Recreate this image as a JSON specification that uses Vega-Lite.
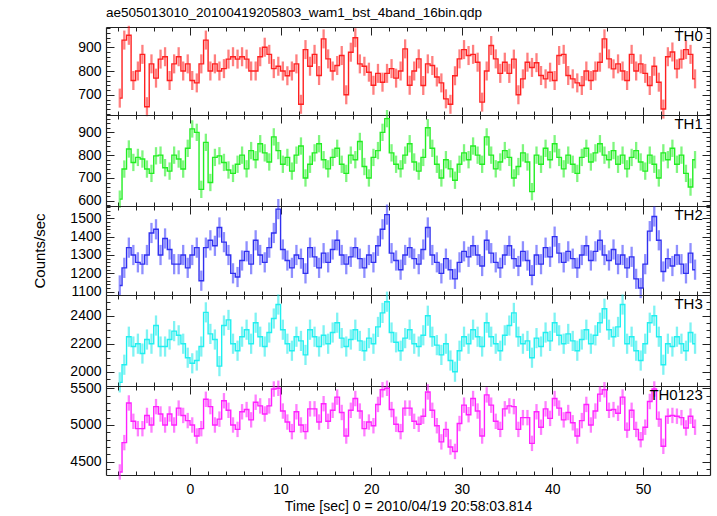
{
"$schema": "https://vega.github.io/schema/vega-lite/v6.json",
"padding": {"left": 32, "top": 6, "right": 5, "bottom": 5},
"config": {
  "view": {"stroke": null},
  "axis": {"format": "d", "domainColor": "#222", "tickColor": "#222", "grid": false, "labelFont": "Liberation Sans", "labelFontSize": 14, "labelColor": "#000", "titleFont": "Liberation Sans", "titleFontSize": 14, "titleFontWeight": "normal", "titleColor": "#000", "tickWidth": 1, "domainWidth": 1.2}
},
"datasets": {
"th0": [
{"t":-7.75,"v":686,"e":40},{"t":-7.25,"v":930,"e":40},{"t":-6.75,"v":950,"e":40},{"t":-6.25,"v":760,"e":40},{"t":-5.75,"v":800,"e":40},{"t":-5.25,"v":870,"e":40},{"t":-4.75,"v":650,"e":40},{"t":-4.25,"v":830,"e":40},{"t":-3.75,"v":770,"e":40},{"t":-3.25,"v":850,"e":40},{"t":-2.75,"v":860,"e":40},{"t":-2.25,"v":760,"e":40},{"t":-1.75,"v":830,"e":40},{"t":-1.25,"v":860,"e":40},{"t":-0.75,"v":800,"e":40},{"t":-0.25,"v":830,"e":40},
{"t":0.25,"v":760,"e":40},{"t":0.75,"v":750,"e":40},{"t":1.25,"v":830,"e":40},{"t":1.75,"v":930,"e":40},{"t":2.25,"v":800,"e":40},{"t":2.75,"v":830,"e":40},{"t":3.25,"v":800,"e":40},{"t":3.75,"v":810,"e":40},{"t":4.25,"v":850,"e":40},{"t":4.75,"v":860,"e":40},{"t":5.25,"v":850,"e":40},{"t":5.75,"v":860,"e":40},{"t":6.25,"v":850,"e":40},{"t":6.75,"v":800,"e":40},{"t":7.25,"v":800,"e":40},{"t":7.75,"v":860,"e":40},
{"t":8.25,"v":900,"e":40},{"t":8.75,"v":870,"e":40},{"t":9.25,"v":810,"e":40},{"t":9.75,"v":820,"e":40},{"t":10.25,"v":800,"e":40},{"t":10.75,"v":780,"e":40},{"t":11.25,"v":800,"e":40},{"t":11.75,"v":830,"e":40},{"t":12.25,"v":660,"e":40},{"t":12.75,"v":890,"e":40},{"t":13.25,"v":820,"e":40},{"t":13.75,"v":870,"e":40},{"t":14.25,"v":781,"e":40},{"t":14.75,"v":935,"e":40},{"t":15.25,"v":851,"e":40},{"t":15.75,"v":800,"e":40},
{"t":16.25,"v":823,"e":40},{"t":16.75,"v":865,"e":40},{"t":17.25,"v":700,"e":40},{"t":17.75,"v":879,"e":40},{"t":18.25,"v":940,"e":40},{"t":18.75,"v":830,"e":40},{"t":19.25,"v":820,"e":40},{"t":19.75,"v":795,"e":40},{"t":20.25,"v":740,"e":40},{"t":20.75,"v":790,"e":40},{"t":21.25,"v":753,"e":40},{"t":21.75,"v":790,"e":40},{"t":22.25,"v":810,"e":40},{"t":22.75,"v":770,"e":40},{"t":23.25,"v":800,"e":40},{"t":23.75,"v":893,"e":40},
{"t":24.25,"v":740,"e":40},{"t":24.75,"v":800,"e":40},{"t":25.25,"v":851,"e":40},{"t":25.75,"v":739,"e":40},{"t":26.25,"v":830,"e":40},{"t":26.75,"v":823,"e":40},{"t":27.25,"v":775,"e":40},{"t":27.75,"v":750,"e":40},{"t":28.25,"v":683,"e":40},{"t":28.75,"v":660,"e":40},{"t":29.25,"v":780,"e":40},{"t":29.75,"v":851,"e":40},{"t":30.25,"v":890,"e":40},{"t":30.75,"v":865,"e":40},{"t":31.25,"v":870,"e":40},{"t":31.75,"v":837,"e":40},
{"t":32.25,"v":669,"e":40},{"t":32.75,"v":800,"e":40},{"t":33.25,"v":907,"e":40},{"t":33.75,"v":851,"e":40},{"t":34.25,"v":790,"e":40},{"t":34.75,"v":837,"e":40},{"t":35.25,"v":790,"e":40},{"t":35.75,"v":850,"e":40},{"t":36.25,"v":700,"e":40},{"t":36.75,"v":767,"e":40},{"t":37.25,"v":837,"e":40},{"t":37.75,"v":815,"e":40},{"t":38.25,"v":835,"e":40},{"t":38.75,"v":781,"e":40},{"t":39.25,"v":767,"e":40},{"t":39.75,"v":795,"e":40},
{"t":40.25,"v":760,"e":40},{"t":40.75,"v":865,"e":40},{"t":41.25,"v":870,"e":40},{"t":41.75,"v":781,"e":40},{"t":42.25,"v":767,"e":40},{"t":42.75,"v":750,"e":40},{"t":43.25,"v":739,"e":40},{"t":43.75,"v":800,"e":40},{"t":44.25,"v":760,"e":40},{"t":44.75,"v":800,"e":40},{"t":45.25,"v":837,"e":40},{"t":45.75,"v":935,"e":40},{"t":46.25,"v":851,"e":40},{"t":46.75,"v":809,"e":40},{"t":47.25,"v":830,"e":40},{"t":47.75,"v":800,"e":40},
{"t":48.25,"v":760,"e":40},{"t":48.75,"v":870,"e":40},{"t":49.25,"v":800,"e":40},{"t":49.75,"v":830,"e":40},{"t":50.25,"v":790,"e":40},{"t":50.75,"v":739,"e":40},{"t":51.25,"v":820,"e":40},{"t":51.75,"v":753,"e":40},{"t":52.25,"v":640,"e":40},{"t":52.75,"v":860,"e":40},{"t":53.25,"v":880,"e":40},{"t":53.75,"v":809,"e":40},{"t":54.25,"v":850,"e":40},{"t":54.75,"v":890,"e":40},{"t":55.25,"v":870,"e":40},{"t":55.75,"v":767,"e":40}
],
"th1": [
{"t":-7.75,"v":607,"e":38},{"t":-7.25,"v":739,"e":38},{"t":-6.75,"v":827,"e":38},{"t":-6.25,"v":768,"e":38},{"t":-5.75,"v":790,"e":38},{"t":-5.25,"v":783,"e":38},{"t":-4.75,"v":739,"e":38},{"t":-4.25,"v":720,"e":38},{"t":-3.75,"v":797,"e":38},{"t":-3.25,"v":800,"e":38},{"t":-2.75,"v":745,"e":38},{"t":-2.25,"v":730,"e":38},{"t":-1.75,"v":800,"e":38},{"t":-1.25,"v":783,"e":38},{"t":-0.75,"v":739,"e":38},{"t":-0.25,"v":830,"e":38},
{"t":0.25,"v":915,"e":38},{"t":0.75,"v":900,"e":38},{"t":1.25,"v":650,"e":38},{"t":1.75,"v":856,"e":38},{"t":2.25,"v":680,"e":38},{"t":2.75,"v":790,"e":38},{"t":3.25,"v":797,"e":38},{"t":3.75,"v":768,"e":38},{"t":4.25,"v":735,"e":38},{"t":4.75,"v":720,"e":38},
{"t":5.25,"v":760,"e":38},{"t":5.75,"v":800,"e":38},{"t":6.25,"v":740,"e":38},{"t":6.75,"v":820,"e":38},{"t":7.25,"v":780,"e":38},{"t":7.75,"v":850,"e":38},{"t":8.25,"v":810,"e":38},{"t":8.75,"v":770,"e":38},
{"t":9.25,"v":880,"e":38},{"t":9.75,"v":820,"e":38},{"t":10.25,"v":760,"e":38},{"t":10.75,"v":790,"e":38},{"t":11.25,"v":730,"e":38},{"t":11.75,"v":800,"e":38},{"t":12.25,"v":840,"e":38},{"t":12.75,"v":700,"e":38},
{"t":13.25,"v":760,"e":38},{"t":13.75,"v":810,"e":38},{"t":14.25,"v":850,"e":38},{"t":14.75,"v":780,"e":38},{"t":15.25,"v":740,"e":38},{"t":15.75,"v":790,"e":38},{"t":16.25,"v":830,"e":38},{"t":16.75,"v":760,"e":38},
{"t":17.25,"v":720,"e":38},{"t":17.75,"v":800,"e":38},{"t":18.25,"v":780,"e":38},{"t":18.75,"v":860,"e":38},{"t":19.25,"v":750,"e":38},{"t":19.75,"v":700,"e":38},{"t":20.25,"v":790,"e":38},{"t":20.75,"v":820,"e":38},
{"t":21.25,"v":900,"e":38},{"t":21.75,"v":960,"e":38},{"t":22.25,"v":810,"e":38},{"t":22.75,"v":760,"e":38},{"t":23.25,"v":740,"e":38},{"t":23.75,"v":800,"e":38},{"t":24.25,"v":850,"e":38},{"t":24.75,"v":770,"e":38},
{"t":25.25,"v":730,"e":38},{"t":25.75,"v":790,"e":38},{"t":26.25,"v":920,"e":38},{"t":26.75,"v":830,"e":38},{"t":27.25,"v":760,"e":38},{"t":27.75,"v":700,"e":38},{"t":28.25,"v":780,"e":38},{"t":28.75,"v":740,"e":38},
{"t":29.25,"v":690,"e":38},{"t":29.75,"v":760,"e":38},{"t":30.25,"v":810,"e":38},{"t":30.75,"v":780,"e":38},{"t":31.25,"v":840,"e":38},{"t":31.75,"v":800,"e":38},{"t":32.25,"v":760,"e":38},{"t":32.75,"v":880,"e":38},
{"t":33.25,"v":800,"e":38},{"t":33.75,"v":740,"e":38},{"t":34.25,"v":770,"e":38},{"t":34.75,"v":820,"e":38},{"t":35.25,"v":790,"e":38},{"t":35.75,"v":700,"e":38},{"t":36.25,"v":750,"e":38},{"t":36.75,"v":810,"e":38},
{"t":37.25,"v":770,"e":38},{"t":37.75,"v":640,"e":38},{"t":38.25,"v":800,"e":38},{"t":38.75,"v":760,"e":38},{"t":39.25,"v":830,"e":38},{"t":39.75,"v":780,"e":38},{"t":40.25,"v":850,"e":38},{"t":40.75,"v":790,"e":38},
{"t":41.25,"v":740,"e":38},{"t":41.75,"v":800,"e":38},{"t":42.25,"v":760,"e":38},{"t":42.75,"v":720,"e":38},{"t":43.25,"v":790,"e":38},{"t":43.75,"v":830,"e":38},{"t":44.25,"v":770,"e":38},{"t":44.75,"v":810,"e":38},
{"t":45.25,"v":850,"e":38},{"t":45.75,"v":800,"e":38},{"t":46.25,"v":780,"e":38},{"t":46.75,"v":820,"e":38},{"t":47.25,"v":760,"e":38},{"t":47.75,"v":800,"e":38},{"t":48.25,"v":740,"e":38},{"t":48.75,"v":790,"e":38},
{"t":49.25,"v":820,"e":38},{"t":49.75,"v":770,"e":38},{"t":50.25,"v":730,"e":38},{"t":50.75,"v":800,"e":38},{"t":51.25,"v":760,"e":38},{"t":51.75,"v":700,"e":38},{"t":52.25,"v":810,"e":38},{"t":52.75,"v":780,"e":38},
{"t":53.25,"v":830,"e":38},{"t":53.75,"v":760,"e":38},{"t":54.25,"v":800,"e":38},{"t":54.75,"v":720,"e":38},{"t":55.25,"v":660,"e":38},{"t":55.75,"v":780,"e":38}
],
"th2": [
{"t":-7.75,"v":1134,"e":55},{"t":-7.25,"v":1230,"e":55},{"t":-6.75,"v":1340,"e":55},{"t":-6.25,"v":1300,"e":55},{"t":-5.75,"v":1260,"e":55},{"t":-5.25,"v":1250,"e":55},{"t":-4.75,"v":1300,"e":55},{"t":-4.25,"v":1420,"e":55},{"t":-3.75,"v":1440,"e":55},{"t":-3.25,"v":1300,"e":55},{"t":-2.75,"v":1390,"e":55},{"t":-2.25,"v":1330,"e":55},{"t":-1.75,"v":1250,"e":55},{"t":-1.25,"v":1250,"e":55},{"t":-0.75,"v":1300,"e":55},{"t":-0.25,"v":1230,"e":55},
{"t":0.25,"v":1300,"e":55},{"t":0.75,"v":1340,"e":55},{"t":1.25,"v":1160,"e":55},{"t":1.75,"v":1340,"e":55},{"t":2.25,"v":1380,"e":55},{"t":2.75,"v":1350,"e":55},{"t":3.25,"v":1450,"e":55},{"t":3.75,"v":1370,"e":55},{"t":4.25,"v":1300,"e":55},{"t":4.75,"v":1200,"e":55},
{"t":5.25,"v":1180,"e":55},{"t":5.75,"v":1270,"e":55},{"t":6.25,"v":1320,"e":55},{"t":6.75,"v":1250,"e":55},{"t":7.25,"v":1380,"e":55},{"t":7.75,"v":1300,"e":55},{"t":8.25,"v":1260,"e":55},{"t":8.75,"v":1340,"e":55},
{"t":9.25,"v":1420,"e":55},{"t":9.75,"v":1550,"e":55},{"t":10.25,"v":1330,"e":55},{"t":10.75,"v":1270,"e":55},{"t":11.25,"v":1230,"e":55},{"t":11.75,"v":1300,"e":55},{"t":12.25,"v":1280,"e":55},{"t":12.75,"v":1200,"e":55},
{"t":13.25,"v":1340,"e":55},{"t":13.75,"v":1290,"e":55},{"t":14.25,"v":1230,"e":55},{"t":14.75,"v":1310,"e":55},{"t":15.25,"v":1260,"e":55},{"t":15.75,"v":1330,"e":55},{"t":16.25,"v":1380,"e":55},{"t":16.75,"v":1300,"e":55},
{"t":17.25,"v":1250,"e":55},{"t":17.75,"v":1290,"e":55},{"t":18.25,"v":1340,"e":55},{"t":18.75,"v":1280,"e":55},{"t":19.25,"v":1230,"e":55},{"t":19.75,"v":1300,"e":55},{"t":20.25,"v":1260,"e":55},{"t":20.75,"v":1350,"e":55},
{"t":21.25,"v":1440,"e":55},{"t":21.75,"v":1520,"e":55},{"t":22.25,"v":1310,"e":55},{"t":22.75,"v":1270,"e":55},{"t":23.25,"v":1220,"e":55},{"t":23.75,"v":1300,"e":55},{"t":24.25,"v":1340,"e":55},{"t":24.75,"v":1280,"e":55},
{"t":25.25,"v":1250,"e":55},{"t":25.75,"v":1330,"e":55},{"t":26.25,"v":1450,"e":55},{"t":26.75,"v":1300,"e":55},{"t":27.25,"v":1260,"e":55},{"t":27.75,"v":1200,"e":55},{"t":28.25,"v":1280,"e":55},{"t":28.75,"v":1220,"e":55},
{"t":29.25,"v":1170,"e":55},{"t":29.75,"v":1260,"e":55},{"t":30.25,"v":1320,"e":55},{"t":30.75,"v":1290,"e":55},{"t":31.25,"v":1350,"e":55},{"t":31.75,"v":1300,"e":55},{"t":32.25,"v":1240,"e":55},{"t":32.75,"v":1380,"e":55},
{"t":33.25,"v":1310,"e":55},{"t":33.75,"v":1260,"e":55},{"t":34.25,"v":1230,"e":55},{"t":34.75,"v":1300,"e":55},{"t":35.25,"v":1350,"e":55},{"t":35.75,"v":1280,"e":55},{"t":36.25,"v":1240,"e":55},{"t":36.75,"v":1320,"e":55},
{"t":37.25,"v":1270,"e":55},{"t":37.75,"v":1190,"e":55},{"t":38.25,"v":1300,"e":55},{"t":38.75,"v":1250,"e":55},{"t":39.25,"v":1340,"e":55},{"t":39.75,"v":1290,"e":55},{"t":40.25,"v":1400,"e":55},{"t":40.75,"v":1310,"e":55},
{"t":41.25,"v":1260,"e":55},{"t":41.75,"v":1320,"e":55},{"t":42.25,"v":1280,"e":55},{"t":42.75,"v":1230,"e":55},{"t":43.25,"v":1300,"e":55},{"t":43.75,"v":1350,"e":55},{"t":44.25,"v":1270,"e":55},{"t":44.75,"v":1320,"e":55},
{"t":45.25,"v":1380,"e":55},{"t":45.75,"v":1300,"e":55},{"t":46.25,"v":1270,"e":55},{"t":46.75,"v":1330,"e":55},{"t":47.25,"v":1250,"e":55},{"t":47.75,"v":1300,"e":55},{"t":48.25,"v":1230,"e":55},{"t":48.75,"v":1290,"e":55},
{"t":49.25,"v":1170,"e":55},{"t":49.75,"v":1120,"e":55},{"t":50.25,"v":1250,"e":55},{"t":50.75,"v":1430,"e":55},{"t":51.25,"v":1510,"e":55},{"t":51.75,"v":1380,"e":55},{"t":52.25,"v":1210,"e":55},{"t":52.75,"v":1280,"e":55},
{"t":53.25,"v":1240,"e":55},{"t":53.75,"v":1300,"e":55},{"t":54.25,"v":1250,"e":55},{"t":54.75,"v":1200,"e":55},{"t":55.25,"v":1310,"e":55},{"t":55.75,"v":1220,"e":55}
],
"th3": [
{"t":-7.75,"v":1924,"e":72},{"t":-7.25,"v":2050,"e":72},{"t":-6.75,"v":2250,"e":72},{"t":-6.25,"v":2180,"e":72},{"t":-5.75,"v":2200,"e":72},{"t":-5.25,"v":2130,"e":72},{"t":-4.75,"v":2230,"e":72},{"t":-4.25,"v":2200,"e":72},{"t":-3.75,"v":2330,"e":72},{"t":-3.25,"v":2180,"e":72},{"t":-2.75,"v":2180,"e":72},{"t":-2.25,"v":2230,"e":72},{"t":-1.75,"v":2290,"e":72},{"t":-1.25,"v":2260,"e":72},{"t":-0.75,"v":2200,"e":72},{"t":-0.25,"v":2100,"e":72},
{"t":0.25,"v":2060,"e":72},{"t":0.75,"v":2080,"e":72},{"t":1.25,"v":2180,"e":72},{"t":1.75,"v":2424,"e":72},{"t":2.25,"v":2270,"e":72},{"t":2.75,"v":2230,"e":72},{"t":3.25,"v":2040,"e":72},{"t":3.75,"v":2330,"e":72},{"t":4.25,"v":2370,"e":72},{"t":4.75,"v":2200,"e":72},
{"t":5.25,"v":2150,"e":72},{"t":5.75,"v":2250,"e":72},{"t":6.25,"v":2300,"e":72},{"t":6.75,"v":2200,"e":72},{"t":7.25,"v":2350,"e":72},{"t":7.75,"v":2250,"e":72},{"t":8.25,"v":2180,"e":72},{"t":8.75,"v":2280,"e":72},
{"t":9.25,"v":2380,"e":72},{"t":9.75,"v":2480,"e":72},{"t":10.25,"v":2300,"e":72},{"t":10.75,"v":2200,"e":72},{"t":11.25,"v":2150,"e":72},{"t":11.75,"v":2250,"e":72},{"t":12.25,"v":2220,"e":72},{"t":12.75,"v":2120,"e":72},
{"t":13.25,"v":2300,"e":72},{"t":13.75,"v":2250,"e":72},{"t":14.25,"v":2180,"e":72},{"t":14.75,"v":2260,"e":72},{"t":15.25,"v":2200,"e":72},{"t":15.75,"v":2280,"e":72},{"t":16.25,"v":2350,"e":72},{"t":16.75,"v":2240,"e":72},
{"t":17.25,"v":2180,"e":72},{"t":17.75,"v":2230,"e":72},{"t":18.25,"v":2300,"e":72},{"t":18.75,"v":2220,"e":72},{"t":19.25,"v":2150,"e":72},{"t":19.75,"v":2240,"e":72},{"t":20.25,"v":2200,"e":72},{"t":20.75,"v":2320,"e":72},
{"t":21.25,"v":2420,"e":72},{"t":21.75,"v":2500,"e":72},{"t":22.25,"v":2280,"e":72},{"t":22.75,"v":2210,"e":72},{"t":23.25,"v":2150,"e":72},{"t":23.75,"v":2240,"e":72},{"t":24.25,"v":2300,"e":72},{"t":24.75,"v":2200,"e":72},
{"t":25.25,"v":2180,"e":72},{"t":25.75,"v":2260,"e":72},{"t":26.25,"v":2400,"e":72},{"t":26.75,"v":2250,"e":72},{"t":27.25,"v":2190,"e":72},{"t":27.75,"v":2120,"e":72},{"t":28.25,"v":2200,"e":72},{"t":28.75,"v":2080,"e":72},
{"t":29.25,"v":2000,"e":72},{"t":29.75,"v":2150,"e":72},{"t":30.25,"v":2250,"e":72},{"t":30.75,"v":2200,"e":72},{"t":31.25,"v":2300,"e":72},{"t":31.75,"v":2250,"e":72},{"t":32.25,"v":2180,"e":72},{"t":32.75,"v":2350,"e":72},
{"t":33.25,"v":2250,"e":72},{"t":33.75,"v":2200,"e":72},{"t":34.25,"v":2150,"e":72},{"t":34.75,"v":2260,"e":72},{"t":35.25,"v":2330,"e":72},{"t":35.75,"v":2420,"e":72},{"t":36.25,"v":2250,"e":72},{"t":36.75,"v":2200,"e":72},
{"t":37.25,"v":2220,"e":72},{"t":37.75,"v":2100,"e":72},{"t":38.25,"v":2240,"e":72},{"t":38.75,"v":2180,"e":72},{"t":39.25,"v":2280,"e":72},{"t":39.75,"v":2220,"e":72},{"t":40.25,"v":2350,"e":72},{"t":40.75,"v":2260,"e":72},
{"t":41.25,"v":2200,"e":72},{"t":41.75,"v":2270,"e":72},{"t":42.25,"v":2220,"e":72},{"t":42.75,"v":2150,"e":72},{"t":43.25,"v":2230,"e":72},{"t":43.75,"v":2300,"e":72},{"t":44.25,"v":2200,"e":72},{"t":44.75,"v":2260,"e":72},
{"t":45.25,"v":2350,"e":72},{"t":45.75,"v":2450,"e":72},{"t":46.25,"v":2300,"e":72},{"t":46.75,"v":2250,"e":72},{"t":47.25,"v":2320,"e":72},{"t":47.75,"v":2480,"e":72},{"t":48.25,"v":2200,"e":72},{"t":48.75,"v":2250,"e":72},
{"t":49.25,"v":2150,"e":72},{"t":49.75,"v":2080,"e":72},{"t":50.25,"v":2200,"e":72},{"t":50.75,"v":2350,"e":72},{"t":51.25,"v":2400,"e":72},{"t":51.75,"v":2250,"e":72},{"t":52.25,"v":2050,"e":72},{"t":52.75,"v":2200,"e":72},
{"t":53.25,"v":2180,"e":72},{"t":53.75,"v":2250,"e":72},{"t":54.25,"v":2200,"e":72},{"t":54.75,"v":2150,"e":72},{"t":55.25,"v":2280,"e":72},{"t":55.75,"v":2200,"e":72}
],
"th4": [
{"t":-7.75,"v":4360,"e":105},{"t":-7.25,"v":4760,"e":105},{"t":-6.75,"v":5300,"e":105},{"t":-6.25,"v":5050,"e":105},{"t":-5.75,"v":4950,"e":105},{"t":-5.25,"v":4950,"e":105},{"t":-4.75,"v":5130,"e":105},{"t":-4.25,"v":5000,"e":105},{"t":-3.75,"v":5250,"e":105},{"t":-3.25,"v":5150,"e":105},{"t":-2.75,"v":5000,"e":105},{"t":-2.25,"v":5150,"e":105},{"t":-1.75,"v":5000,"e":105},{"t":-1.25,"v":5230,"e":105},{"t":-0.75,"v":5130,"e":105},{"t":-0.25,"v":5060,"e":105},
{"t":0.25,"v":5000,"e":105},{"t":0.75,"v":4850,"e":105},{"t":1.25,"v":4950,"e":105},{"t":1.75,"v":5350,"e":105},{"t":2.25,"v":5250,"e":105},{"t":2.75,"v":5000,"e":105},{"t":3.25,"v":5080,"e":105},{"t":3.75,"v":5330,"e":105},{"t":4.25,"v":5200,"e":105},{"t":4.75,"v":5000,"e":105},
{"t":5.25,"v":4940,"e":105},{"t":5.75,"v":5180,"e":105},{"t":6.25,"v":5210,"e":105},{"t":6.75,"v":5070,"e":105},{"t":7.25,"v":5310,"e":105},{"t":7.75,"v":5260,"e":105},{"t":8.25,"v":5150,"e":105},{"t":8.75,"v":5260,"e":105},
{"t":9.25,"v":5490,"e":105},{"t":9.75,"v":5500,"e":105},{"t":10.25,"v":5190,"e":105},{"t":10.75,"v":5040,"e":105},{"t":11.25,"v":4910,"e":105},{"t":11.75,"v":5180,"e":105},{"t":12.25,"v":5000,"e":105},{"t":12.75,"v":4910,"e":105},
{"t":13.25,"v":5220,"e":105},{"t":13.75,"v":5220,"e":105},{"t":14.25,"v":5040,"e":105},{"t":14.75,"v":5290,"e":105},{"t":15.25,"v":5050,"e":105},{"t":15.75,"v":5200,"e":105},{"t":16.25,"v":5380,"e":105},{"t":16.75,"v":5170,"e":105},
{"t":17.25,"v":4850,"e":105},{"t":17.75,"v":5200,"e":105},{"t":18.25,"v":5360,"e":105},{"t":18.75,"v":5190,"e":105},{"t":19.25,"v":4950,"e":105},{"t":19.75,"v":5040,"e":105},{"t":20.25,"v":4990,"e":105},{"t":20.75,"v":5280,"e":105},
{"t":21.25,"v":5480,"e":105},{"t":21.75,"v":5500,"e":105},{"t":22.25,"v":5210,"e":105},{"t":22.75,"v":5010,"e":105},{"t":23.25,"v":4910,"e":105},{"t":23.75,"v":5230,"e":105},{"t":24.25,"v":5230,"e":105},{"t":24.75,"v":5050,"e":105},
{"t":25.25,"v":5010,"e":105},{"t":25.75,"v":5120,"e":105},{"t":26.25,"v":5450,"e":105},{"t":26.75,"v":5200,"e":105},{"t":27.25,"v":4990,"e":105},{"t":27.75,"v":4770,"e":105},{"t":28.25,"v":4940,"e":105},{"t":28.75,"v":4700,"e":105},
{"t":29.25,"v":4640,"e":105},{"t":29.75,"v":5020,"e":105},{"t":30.25,"v":5270,"e":105},{"t":30.75,"v":5140,"e":105},{"t":31.25,"v":5360,"e":105},{"t":31.75,"v":5190,"e":105},{"t":32.25,"v":4850,"e":105},{"t":32.75,"v":5410,"e":105},
{"t":33.25,"v":5270,"e":105},{"t":33.75,"v":5050,"e":105},{"t":34.25,"v":4940,"e":105},{"t":34.75,"v":5220,"e":105},{"t":35.25,"v":5260,"e":105},{"t":35.75,"v":5250,"e":105},{"t":36.25,"v":4940,"e":105},{"t":36.75,"v":5100,"e":105},
{"t":37.25,"v":5100,"e":105},{"t":37.75,"v":4750,"e":105},{"t":38.25,"v":5180,"e":105},{"t":38.75,"v":4970,"e":105},{"t":39.25,"v":5220,"e":105},{"t":39.75,"v":5090,"e":105},{"t":40.25,"v":5360,"e":105},{"t":40.75,"v":5230,"e":105},
{"t":41.25,"v":5070,"e":105},{"t":41.75,"v":5170,"e":105},{"t":42.25,"v":5030,"e":105},{"t":42.75,"v":4850,"e":105},{"t":43.25,"v":5060,"e":105},{"t":43.75,"v":5280,"e":105},{"t":44.25,"v":5000,"e":105},{"t":44.75,"v":5190,"e":105},
{"t":45.25,"v":5420,"e":105},{"t":45.75,"v":5480,"e":105},{"t":46.25,"v":5200,"e":105},{"t":46.75,"v":5210,"e":105},{"t":47.25,"v":5160,"e":105},{"t":47.75,"v":5380,"e":105},{"t":48.25,"v":4930,"e":105},{"t":48.75,"v":5200,"e":105},
{"t":49.25,"v":4940,"e":105},{"t":49.75,"v":4800,"e":105},{"t":50.25,"v":4970,"e":105},{"t":50.75,"v":5320,"e":105},{"t":51.25,"v":5490,"e":105},{"t":51.75,"v":5080,"e":105},{"t":52.25,"v":4710,"e":105},{"t":52.75,"v":5120,"e":105},
{"t":53.25,"v":5130,"e":105},{"t":53.75,"v":5120,"e":105},{"t":54.25,"v":5100,"e":105},{"t":54.75,"v":4960,"e":105},{"t":55.25,"v":5120,"e":105},{"t":55.75,"v":4970,"e":105}
]
},
"spacing": 0,
"bounds": "flush",
"vconcat": [
{
 "width": 604, "height": 88,
 "title": {"text": "ae505013010_20100419205803_wam1_bst_4band_16bin.qdp", "anchor": "start", "frame": "group", "font": "Liberation Sans", "fontSize": 13.5, "fontWeight": "normal", "color": "#000", "offset": 5},
 "data": {"name": "th0"},
 "resolve": {"axis": {"x": "independent", "y": "independent"}},
 "layer": [
  {"mark": {"type": "errorbar", "rule": {"color": "#ff0000", "strokeWidth": 2.3, "opacity": 0.5}},
   "encoding": {
    "x": {"field": "t", "type": "quantitative", "scale": {"domain": [-9.27, 57.4], "nice": false, "zero": false}, "axis": {"orient": "bottom", "values": [0,10,20,30,40,50], "tickSize": -8, "labels": false, "title": null}},
    "y": {"field": "v", "type": "quantitative", "scale": {"domain": [615, 985], "nice": false, "zero": false}, "axis": {"orient": "left", "values": [700,800,900], "tickSize": -8, "labelPadding": 13, "title": null}},
    "yError": {"field": "e"}}},
  {"mark": {"type": "line", "interpolate": "step", "stroke": "#ff2020", "strokeWidth": 1.4},
   "encoding": {
    "x": {"field": "t", "type": "quantitative", "axis": {"orient": "top", "values": [0,10,20,30,40,50], "tickSize": -8, "labels": false, "title": null}},
    "y": {"field": "v", "type": "quantitative", "axis": {"orient": "right", "values": [700,800,900], "tickSize": -8, "labels": false, "title": null}}}},
  {"mark": {"type": "point", "opacity": 0},
   "encoding": {
    "x": {"field": "t", "type": "quantitative", "axis": {"orient": "bottom", "values": [-8,-6,-4,-2,2,4,6,8,12,14,16,18,22,24,26,28,32,34,36,38,42,44,46,48,52,54,56], "tickSize": -4, "labels": false, "domain": false, "title": null}},
    "y": {"field": "v", "type": "quantitative", "axis": {"orient": "left", "values": [620,640,660,680,720,740,760,780,820,840,860,880,920,940,960,980], "tickSize": -4, "labels": false, "domain": false, "title": null}}}},
  {"mark": {"type": "point", "opacity": 0},
   "encoding": {
    "x": {"field": "t", "type": "quantitative", "axis": {"orient": "top", "values": [-8,-6,-4,-2,2,4,6,8,12,14,16,18,22,24,26,28,32,34,36,38,42,44,46,48,52,54,56], "tickSize": -4, "labels": false, "domain": false, "title": null}},
    "y": {"field": "v", "type": "quantitative", "axis": {"orient": "right", "values": [620,640,660,680,720,740,760,780,820,840,860,880,920,940,960,980], "tickSize": -4, "labels": false, "domain": false, "title": null}}}},
  {"data": {"values": [{"label": "TH0"}]},
   "mark": {"type": "text", "align": "right", "baseline": "alphabetic", "font": "Liberation Sans", "fontSize": 15, "color": "#000"},
   "encoding": {"x": {"datum": 56.6, "type": "quantitative", "axis": null}, "y": {"datum": 926, "type": "quantitative", "axis": null}, "text": {"field": "label"}}}
 ]
},
{
 "width": 604, "height": 91,
 "data": {"name": "th1"},
 "resolve": {"axis": {"x": "independent", "y": "independent"}},
 "layer": [
  {"mark": {"type": "errorbar", "rule": {"color": "#00ee00", "strokeWidth": 2.3, "opacity": 0.5}},
   "encoding": {
    "x": {"field": "t", "type": "quantitative", "scale": {"domain": [-9.27, 57.4], "nice": false, "zero": false}, "axis": {"orient": "bottom", "values": [0,10,20,30,40,50], "tickSize": -8, "labels": false, "title": null}},
    "y": {"field": "v", "type": "quantitative", "scale": {"domain": [577, 976], "nice": false, "zero": false}, "axis": {"orient": "left", "values": [600,700,800,900], "tickSize": -8, "labelPadding": 13, "title": null}},
    "yError": {"field": "e"}}},
  {"mark": {"type": "line", "interpolate": "step", "stroke": "#22ee22", "strokeWidth": 1.4},
   "encoding": {
    "x": {"field": "t", "type": "quantitative", "axis": {"orient": "top", "values": [0,10,20,30,40,50], "tickSize": -8, "labels": false, "title": null}},
    "y": {"field": "v", "type": "quantitative", "axis": {"orient": "right", "values": [600,700,800,900], "tickSize": -8, "labels": false, "title": null}}}},
  {"mark": {"type": "point", "opacity": 0},
   "encoding": {
    "x": {"field": "t", "type": "quantitative", "axis": {"orient": "bottom", "values": [-8,-6,-4,-2,2,4,6,8,12,14,16,18,22,24,26,28,32,34,36,38,42,44,46,48,52,54,56], "tickSize": -4, "labels": false, "domain": false, "title": null}},
    "y": {"field": "v", "type": "quantitative", "axis": {"orient": "left", "values": [580,620,640,660,680,720,740,760,780,820,840,860,880,920,940,960], "tickSize": -4, "labels": false, "domain": false, "title": null}}}},
  {"mark": {"type": "point", "opacity": 0},
   "encoding": {
    "x": {"field": "t", "type": "quantitative", "axis": {"orient": "top", "values": [-8,-6,-4,-2,2,4,6,8,12,14,16,18,22,24,26,28,32,34,36,38,42,44,46,48,52,54,56], "tickSize": -4, "labels": false, "domain": false, "title": null}},
    "y": {"field": "v", "type": "quantitative", "axis": {"orient": "right", "values": [580,620,640,660,680,720,740,760,780,820,840,860,880,920,940,960], "tickSize": -4, "labels": false, "domain": false, "title": null}}}},
  {"data": {"values": [{"label": "TH1"}]},
   "mark": {"type": "text", "align": "right", "baseline": "alphabetic", "font": "Liberation Sans", "fontSize": 15, "color": "#000"},
   "encoding": {"x": {"datum": 56.6, "type": "quantitative", "axis": null}, "y": {"datum": 914, "type": "quantitative", "axis": null}, "text": {"field": "label"}}}
 ]
},
{
 "width": 604, "height": 89,
 "data": {"name": "th2"},
 "resolve": {"axis": {"x": "independent", "y": "independent"}},
 "layer": [
  {"mark": {"type": "errorbar", "rule": {"color": "#2020ff", "strokeWidth": 2.3, "opacity": 0.5}},
   "encoding": {
    "x": {"field": "t", "type": "quantitative", "scale": {"domain": [-9.27, 57.4], "nice": false, "zero": false}, "axis": {"orient": "bottom", "values": [0,10,20,30,40,50], "tickSize": -8, "labels": false, "title": null}},
    "y": {"field": "v", "type": "quantitative", "scale": {"domain": [1082, 1567], "nice": false, "zero": false}, "axis": {"orient": "left", "values": [1100,1200,1300,1400,1500], "tickSize": -8, "labelPadding": 13, "title": "Counts/sec", "titlePadding": 22, "titleFontSize": 15}},
    "yError": {"field": "e"}}},
  {"mark": {"type": "line", "interpolate": "step", "stroke": "#3030f0", "strokeWidth": 1.4},
   "encoding": {
    "x": {"field": "t", "type": "quantitative", "axis": {"orient": "top", "values": [0,10,20,30,40,50], "tickSize": -8, "labels": false, "title": null}},
    "y": {"field": "v", "type": "quantitative", "axis": {"orient": "right", "values": [1100,1200,1300,1400,1500], "tickSize": -8, "labels": false, "title": null}}}},
  {"mark": {"type": "point", "opacity": 0},
   "encoding": {
    "x": {"field": "t", "type": "quantitative", "axis": {"orient": "bottom", "values": [-8,-6,-4,-2,2,4,6,8,12,14,16,18,22,24,26,28,32,34,36,38,42,44,46,48,52,54,56], "tickSize": -4, "labels": false, "domain": false, "title": null}},
    "y": {"field": "v", "type": "quantitative", "axis": {"orient": "left", "values": [1120,1140,1160,1180,1220,1240,1260,1280,1320,1340,1360,1380,1420,1440,1460,1480,1520,1540,1560], "tickSize": -4, "labels": false, "domain": false, "title": null}}}},
  {"mark": {"type": "point", "opacity": 0},
   "encoding": {
    "x": {"field": "t", "type": "quantitative", "axis": {"orient": "top", "values": [-8,-6,-4,-2,2,4,6,8,12,14,16,18,22,24,26,28,32,34,36,38,42,44,46,48,52,54,56], "tickSize": -4, "labels": false, "domain": false, "title": null}},
    "y": {"field": "v", "type": "quantitative", "axis": {"orient": "right", "values": [1120,1140,1160,1180,1220,1240,1260,1280,1320,1340,1360,1380,1420,1440,1460,1480,1520,1540,1560], "tickSize": -4, "labels": false, "domain": false, "title": null}}}},
  {"data": {"values": [{"label": "TH2"}]},
   "mark": {"type": "text", "align": "right", "baseline": "alphabetic", "font": "Liberation Sans", "fontSize": 15, "color": "#000"},
   "encoding": {"x": {"datum": 56.6, "type": "quantitative", "axis": null}, "y": {"datum": 1491, "type": "quantitative", "axis": null}, "text": {"field": "label"}}}
 ]
},
{
 "width": 604, "height": 91,
 "data": {"name": "th3"},
 "resolve": {"axis": {"x": "independent", "y": "independent"}},
 "layer": [
  {"mark": {"type": "errorbar", "rule": {"color": "#00e8e8", "strokeWidth": 2.3, "opacity": 0.5}},
   "encoding": {
    "x": {"field": "t", "type": "quantitative", "scale": {"domain": [-9.27, 57.4], "nice": false, "zero": false}, "axis": {"orient": "bottom", "values": [0,10,20,30,40,50], "tickSize": -8, "labels": false, "title": null}},
    "y": {"field": "v", "type": "quantitative", "scale": {"domain": [1898, 2548], "nice": false, "zero": false}, "axis": {"orient": "left", "values": [2000,2200,2400], "tickSize": -8, "labelPadding": 13, "title": null}},
    "yError": {"field": "e"}}},
  {"mark": {"type": "line", "interpolate": "step", "stroke": "#20f0f0", "strokeWidth": 1.4},
   "encoding": {
    "x": {"field": "t", "type": "quantitative", "axis": {"orient": "top", "values": [0,10,20,30,40,50], "tickSize": -8, "labels": false, "title": null}},
    "y": {"field": "v", "type": "quantitative", "axis": {"orient": "right", "values": [2000,2200,2400], "tickSize": -8, "labels": false, "title": null}}}},
  {"mark": {"type": "point", "opacity": 0},
   "encoding": {
    "x": {"field": "t", "type": "quantitative", "axis": {"orient": "bottom", "values": [-8,-6,-4,-2,2,4,6,8,12,14,16,18,22,24,26,28,32,34,36,38,42,44,46,48,52,54,56], "tickSize": -4, "labels": false, "domain": false, "title": null}},
    "y": {"field": "v", "type": "quantitative", "axis": {"orient": "left", "values": [1900,1950,2050,2100,2150,2250,2300,2350,2450,2500], "tickSize": -4, "labels": false, "domain": false, "title": null}}}},
  {"mark": {"type": "point", "opacity": 0},
   "encoding": {
    "x": {"field": "t", "type": "quantitative", "axis": {"orient": "top", "values": [-8,-6,-4,-2,2,4,6,8,12,14,16,18,22,24,26,28,32,34,36,38,42,44,46,48,52,54,56], "tickSize": -4, "labels": false, "domain": false, "title": null}},
    "y": {"field": "v", "type": "quantitative", "axis": {"orient": "right", "values": [1900,1950,2050,2100,2150,2250,2300,2350,2450,2500], "tickSize": -4, "labels": false, "domain": false, "title": null}}}},
  {"data": {"values": [{"label": "TH3"}]},
   "mark": {"type": "text", "align": "right", "baseline": "alphabetic", "font": "Liberation Sans", "fontSize": 15, "color": "#000"},
   "encoding": {"x": {"datum": 56.6, "type": "quantitative", "axis": null}, "y": {"datum": 2448, "type": "quantitative", "axis": null}, "text": {"field": "label"}}}
 ]
},
{
 "width": 604, "height": 89,
 "data": {"name": "th4"},
 "resolve": {"axis": {"x": "independent", "y": "independent"}},
 "layer": [
  {"mark": {"type": "errorbar", "rule": {"color": "#ff00ff", "strokeWidth": 2.3, "opacity": 0.5}},
   "encoding": {
    "x": {"field": "t", "type": "quantitative", "scale": {"domain": [-9.27, 57.4], "nice": false, "zero": false}, "axis": {"orient": "bottom", "values": [0,10,20,30,40,50], "tickSize": -8, "labelPadding": 15, "labelFlush": false, "title": "Time [sec] 0 = 2010/04/19 20:58:03.814", "titlePadding": 3}},
    "y": {"field": "v", "type": "quantitative", "scale": {"domain": [4319, 5531], "nice": false, "zero": false}, "axis": {"orient": "left", "values": [4500,5000,5500], "tickSize": -8, "labelPadding": 13, "title": null}},
    "yError": {"field": "e"}}},
  {"mark": {"type": "line", "interpolate": "step", "stroke": "#ff20ff", "strokeWidth": 1.4},
   "encoding": {
    "x": {"field": "t", "type": "quantitative", "axis": {"orient": "top", "values": [0,10,20,30,40,50], "tickSize": -8, "labels": false, "title": null}},
    "y": {"field": "v", "type": "quantitative", "axis": {"orient": "right", "values": [4500,5000,5500], "tickSize": -8, "labels": false, "title": null}}}},
  {"mark": {"type": "point", "opacity": 0},
   "encoding": {
    "x": {"field": "t", "type": "quantitative", "axis": {"orient": "bottom", "values": [-8,-6,-4,-2,2,4,6,8,12,14,16,18,22,24,26,28,32,34,36,38,42,44,46,48,52,54,56], "tickSize": -4, "labels": false, "domain": false, "title": null}},
    "y": {"field": "v", "type": "quantitative", "axis": {"orient": "left", "values": [4400,4600,4700,4800,4900,5100,5200,5300,5400], "tickSize": -4, "labels": false, "domain": false, "title": null}}}},
  {"mark": {"type": "point", "opacity": 0},
   "encoding": {
    "x": {"field": "t", "type": "quantitative", "axis": {"orient": "top", "values": [-8,-6,-4,-2,2,4,6,8,12,14,16,18,22,24,26,28,32,34,36,38,42,44,46,48,52,54,56], "tickSize": -4, "labels": false, "domain": false, "title": null}},
    "y": {"field": "v", "type": "quantitative", "axis": {"orient": "right", "values": [4400,4600,4700,4800,4900,5100,5200,5300,5400], "tickSize": -4, "labels": false, "domain": false, "title": null}}}},
  {"data": {"values": [{"label": "TH0123"}]},
   "mark": {"type": "text", "align": "right", "baseline": "alphabetic", "font": "Liberation Sans", "fontSize": 15, "color": "#000"},
   "encoding": {"x": {"datum": 56.6, "type": "quantitative", "axis": null}, "y": {"datum": 5341, "type": "quantitative", "axis": null}, "text": {"field": "label"}}}
 ]
}
]
}
